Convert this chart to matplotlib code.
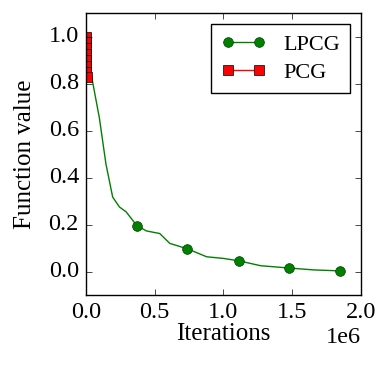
import matplotlib
matplotlib.use("Agg")
import matplotlib.pyplot as plt

# LPCG curve (iterations, function value)
lpcg_iters = [0, 20000, 37000, 98000, 146000, 195000, 244000, 293000, 370000,
              440000, 537000, 610000, 737000, 878000, 1000000, 1110000,
              1270000, 1480000, 1660000, 1846000]
lpcg_vals = [1.0, 0.92, 0.845, 0.655, 0.458, 0.317, 0.275, 0.254, 0.196,
             0.173, 0.162, 0.12, 0.097, 0.063, 0.056, 0.046,
             0.025, 0.015, 0.007, 0.003]
lpcg_marks = [8, 12, 15, 17, 19]

# PCG: a few iterations near zero
pcg_iters = [0, 700, 1400, 2100, 2800, 3500, 4200, 4900]
pcg_vals = [1.0, 0.975, 0.95, 0.925, 0.9, 0.875, 0.85, 0.83]

plt.style.use("classic")
plt.rcParams["font.family"] = ["Liberation Serif", "DejaVu Serif"]
plt.rcParams["font.size"] = 18

fig = plt.figure(figsize=(3.92, 3.74), dpi=100, facecolor="white")
ax = fig.add_axes([0.219, 0.211, 0.702, 0.754])

ax.plot(lpcg_iters, lpcg_vals, color="g", marker="o", markersize=7,
        markeredgecolor="#004000", markevery=lpcg_marks, lw=1, label="LPCG")
ax.plot(pcg_iters, pcg_vals, color="r", marker="s", markersize=7,
        markeredgecolor="k", lw=1, label="PCG")

ax.set_xlim(0, 2.0e6)
ax.set_ylim(-0.1, 1.1)
ax.set_xticks([0, 0.5e6, 1.0e6, 1.5e6, 2.0e6])
ax.set_yticks([0.0, 0.2, 0.4, 0.6, 0.8, 1.0])
ax.ticklabel_format(style="sci", axis="x", scilimits=(0, 0))
ax.tick_params(labelsize=17.5, pad=5)
ax.xaxis.get_offset_text().set_fontsize(17.5)
ax.set_xlabel("Iterations", fontsize=18, labelpad=0)
ax.set_ylabel("Function value", fontsize=18, labelpad=9)
ax.legend(loc="upper right", numpoints=2, fontsize=16, borderaxespad=0.5,
          handlelength=2.0, handletextpad=0.8, labelspacing=0.35,
          borderpad=0.45)

fig.savefig("out.png", dpi=100, facecolor="white")
